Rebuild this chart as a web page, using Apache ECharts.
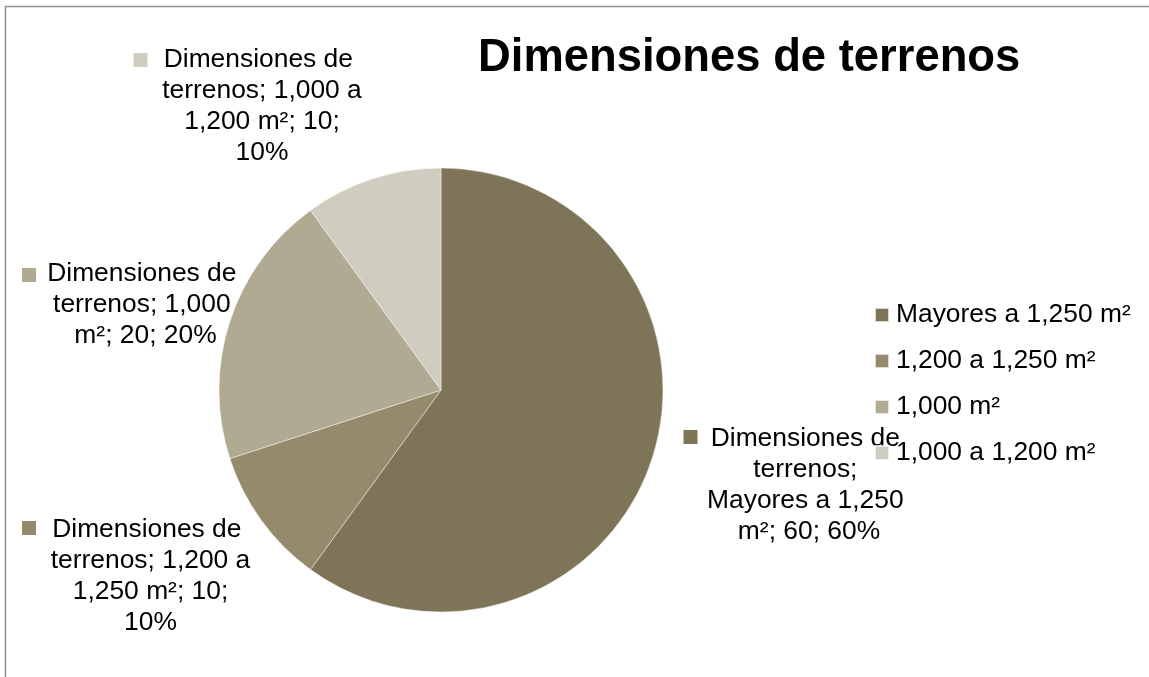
<!DOCTYPE html>
<html>
<head>
<meta charset="utf-8">
<script src="https://cdn.jsdelivr.net/npm/echarts@6/dist/echarts.min.js"></script>
<style>
html,body{margin:0;padding:0;background:#fff;}
#chart{width:1149px;height:677px;}
</style>
</head>
<body>
<div id="chart"></div>
<script>
const titleText = 'Dimensiones de terrenos';
const seriesName = 'Dimensiones de terrenos';
const categories = ['Mayores a 1,250 m²', '1,200 a 1,250 m²', '1,000 m²', '1,000 a 1,200 m²'];
const values = [60, 10, 20, 10];
const colors = ['#7e7559', '#958b6c', '#b1aa92', '#cfccc0'];

// label placement (layout only)
const textAnchors = [[809, 485], [150.5, 576], [145.5, 305], [262, 106]];
const squareAnchors = [[690.5, 437], [29, 528], [29, 275], [140.5, 60]];

const FONT = "'Liberation Sans', Arial, sans-serif";
const chart = echarts.init(document.getElementById('chart'));

const pieCommon = {
  type: 'pie',
  center: [441, 390],
  radius: 222,
  startAngle: 90,
  clockwise: true,
  avoidLabelOverlap: false,
  labelLine: { show: false },
  emphasis: { disabled: true }
};

chart.setOption({
  backgroundColor: '#ffffff',
  animation: false,
  title: {
    text: titleText,
    left: 473,
    top: 31,
    textStyle: { fontFamily: FONT, fontSize: 45.4, fontWeight: 'bold', color: '#000' }
  },
  legend: {
    orient: 'vertical',
    left: 869,
    top: 297,
    icon: 'rect',
    itemWidth: 14,
    itemHeight: 14,
    itemGap: 20,
    data: categories,
    textStyle: { fontFamily: FONT, fontSize: 26.4, lineHeight: 26, color: '#000', padding: [0, 0, 0, 2] }
  },
  graphic: [{
    type: 'rect',
    shape: { x: 5.5, y: 6.5, width: 1200, height: 700 },
    style: { fill: 'none', stroke: '#909090', lineWidth: 1.5 },
    silent: true
  }],
  series: [
    Object.assign({}, pieCommon, {
      name: seriesName,
      data: categories.map((c, i) => ({ name: c, value: values[i], itemStyle: { color: colors[i] } })),
      itemStyle: { borderColor: 'rgba(255,255,255,0.7)', borderWidth: 0.6 },
      label: {
        show: true,
        formatter: p => seriesName + '; ' + p.name + '; ' + p.value + '; ' + Math.round(p.percent) + '%',
        fontFamily: FONT,
        fontSize: 26.4,
        lineHeight: 31,
        color: '#000',
        width: 204,
        overflow: 'break',
        align: 'center'
      },
      labelLayout: p => ({
        x: textAnchors[p.dataIndex][0],
        y: textAnchors[p.dataIndex][1],
        align: 'center',
        verticalAlign: 'middle',
        hideOverlap: false
      })
    }),
    Object.assign({}, pieCommon, {
      name: seriesName + ' markers',
      silent: true,
      z: 3,
      itemStyle: { color: 'rgba(0,0,0,0)' },
      data: categories.map((c, i) => ({
        name: c,
        value: values[i],
        itemStyle: { color: 'rgba(0,0,0,0)' },
        label: {
          show: true,
          formatter: '{sq|}',
          rich: { sq: { width: 14, height: 14, backgroundColor: colors[i] } }
        }
      })),
      labelLayout: p => ({
        x: squareAnchors[p.dataIndex][0],
        y: squareAnchors[p.dataIndex][1],
        align: 'center',
        verticalAlign: 'middle',
        hideOverlap: false
      })
    })
  ]
});
</script>
</body>
</html>
